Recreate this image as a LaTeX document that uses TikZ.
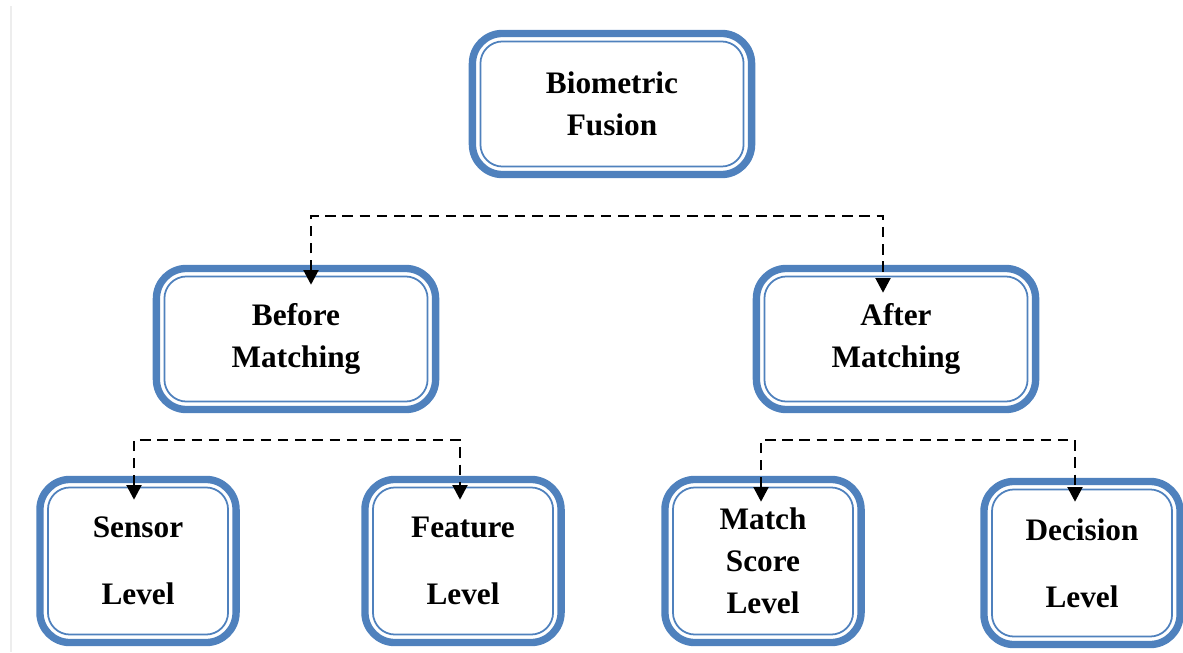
\documentclass[tikz,border=0pt]{standalone}
\usepackage{fontspec}
\setmainfont{Liberation Serif}
\usetikzlibrary{arrows.meta}
\definecolor{boxblue}{HTML}{4F81BD}
\begin{document}
\begin{tikzpicture}[x=0.01cm,y=-0.01cm,
  fusebox/.style={draw=boxblue,line width=2.1pt,rounded corners=0.3cm,fill=white,align=center,
    inner sep=0pt,font=\fontsize{8.9}{11.95}\selectfont\bfseries,
    path picture={\draw[boxblue,line width=0.5pt,rounded corners=0.22cm]
      ([shift={(0.08cm,0.08cm)}]path picture bounding box.south west) rectangle
      ([shift={(-0.08cm,-0.08cm)}]path picture bounding box.north east);}},
  toplevel/.style={fusebox,minimum width=2.79cm,minimum height=1.41cm},
  lowlevel/.style={fusebox,minimum width=1.96cm,minimum height=1.63cm},
  link/.style={line width=0.8pt,dash pattern=on 3pt off 1.9pt,
    {Triangle[length=4.2pt,width=4.2pt]}-{Triangle[length=4.2pt,width=4.2pt]}}]
  \useasboundingbox (0,0) rectangle (1183,652);
  \draw[black!7,line width=0.85pt] (11,6) -- (11,652);
  \node[toplevel] (fusion) at (612,104) {Biometric\\Fusion};
  \node[toplevel] (before) at (296,339) {Before\\Matching};
  \node[toplevel] (after) at (896,339) {After\\Matching};
  \node[lowlevel] (sensor) at (138,561) {Sensor\\[7pt]Level};
  \node[lowlevel] (feature) at (463,561) {Feature\\[7pt]Level};
  \node[lowlevel] (score) at (763,561) {Match\\Score\\Level};
  \node[lowlevel] (decision) at (1082,563) {Decision\\[7pt]Level};
  \coordinate (splitL) at (311,216);
  \coordinate (splitR) at (883,216);
  \coordinate (beforeL) at (134,440);
  \coordinate (beforeR) at (460,440);
  \coordinate (afterL) at (761,440);
  \coordinate (afterR) at (1075,440);
  \draw[link] ([yshift=-0.2cm]before.north -| splitL) -- (splitL) -- (splitR) -- ([yshift=-0.28cm]after.north -| splitR);
  \draw[link] ([yshift=-0.24cm]sensor.north -| beforeL) -- (beforeL) -- (beforeR) -- ([yshift=-0.24cm]feature.north -| beforeR);
  \draw[link] ([yshift=-0.26cm]score.north -| afterL) -- (afterL) -- (afterR) -- ([yshift=-0.24cm]decision.north -| afterR);
\end{tikzpicture}
\end{document}
